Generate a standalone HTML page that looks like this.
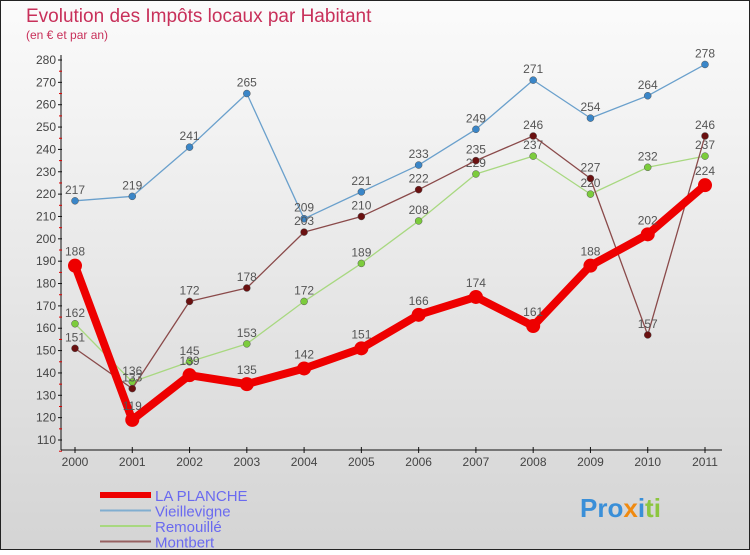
<!DOCTYPE html>
<html><head><meta charset="utf-8"><style>
body{margin:0}
#c{width:750px;height:550px;position:relative;font-family:"Liberation Sans",sans-serif}
</style></head><body>
<div id="c">
<svg id="s" width="750" height="550" xmlns="http://www.w3.org/2000/svg">
<defs><linearGradient id="bg" x1="0" y1="0" x2="0" y2="1"><stop offset="0" stop-color="#fbfbfb"/><stop offset="1" stop-color="#d4d4d4"/></linearGradient></defs>
<rect x="0.5" y="0.5" width="749" height="549" fill="url(#bg)" stroke="#222"/>
<text x="26" y="22" font-size="19" fill="#c8305a">Evolution des Impôts locaux par Habitant</text>
<text x="26" y="39" font-size="12" fill="#c8305a">(en € et par an)</text>
<g id="axes"></g><g id="series"></g><g id="legend"></g>
<text x="580" y="517" font-size="26" font-weight="bold" fill="#3a8fd8">Pro<tspan fill="#f08a10">x</tspan><tspan fill="#3a8fd8">i</tspan><tspan fill="#8cc63f">ti</tspan></text>
</svg></div>
<script>
const years=[2000,2001,2002,2003,2004,2005,2006,2007,2008,2009,2010,2011];
const yTicks=[110,120,130,140,150,160,170,180,190,200,210,220,230,240,250,260,270,280];
const laPlanche=[188,119,139,135,142,151,166,174,161,188,202,224];
const vieillevigne=[217,219,241,265,209,221,233,249,271,254,264,278];
const remouille=[162,136,145,153,172,189,208,229,237,220,232,237];
const montbert=[151,133,172,178,203,210,222,235,246,227,157,246];
const NS="http://www.w3.org/2000/svg";
function xS(i){return 75+i*(705-75)/(years.length-1);}
function yS(v){return 440-(v-110)*(380/170);}
function mk(p,t,a){const e=document.createElementNS(NS,t);for(const k in a)e.setAttribute(k,a[k]);p.appendChild(e);return e;}
const ax=document.getElementById('axes');
let l=mk(ax,'line',{x1:61,y1:55,x2:61,y2:450,stroke:'#111'});


l=mk(ax,'line',{x1:61,y1:450,x2:722,y2:450,stroke:'#111'});


yTicks.forEach(v=>{const y=yS(v);
mk(ax,'line',{x1:58,y1:y,x2:62,y2:y,stroke:'#111'});
mk(ax,'line',{x1:59,y1:y+11.2,x2:62,y2:y+11.2,stroke:'#d00'});
const t=mk(ax,'text',{x:56,y:y+4,'text-anchor':'end','font-size':12,fill:'#444'});t.textContent=v;

});
years.forEach((yr,i)=>{const x=xS(i);
mk(ax,'line',{x1:x,y1:447,x2:x,y2:453,stroke:'#111'});
const t=mk(ax,'text',{x:x,y:466,'text-anchor':'middle','font-size':12,fill:'#444'});t.textContent=yr;

});
const sg=document.getElementById('series');
const defs=[
{d:vieillevigne,c:'#6aa0cc',dot:'#3a86c8',w:1.3,r:3.5,n:'vieillevigne'},
{d:remouille,c:'#a8d880',dot:'#7ccc3c',w:1.3,r:3.5,n:'remouille'},
{d:montbert,c:'#8a4a4a',dot:'#6a1010',w:1.3,r:3.5,n:'montbert'},
{d:laPlanche,c:'#ee0000',dot:'#ee0000',w:8,r:7,n:'la-planche'}];
defs.forEach(s=>{const g=mk(sg,'g',{});


const p=mk(g,'polyline',{points:s.d.map((v,i)=>xS(i)+','+yS(v)).join(' '),fill:'none',stroke:s.c,'stroke-width':s.w,'stroke-linejoin':'round'});


s.d.forEach((v,i)=>{const c=mk(g,'circle',{cx:xS(i),cy:yS(v),r:s.r,fill:s.dot,stroke:s.w>2?'none':'#555','stroke-width':0.5});


const t=mk(g,'text',{x:xS(i),y:yS(v)-(s.w>2?10:7),'text-anchor':'middle','font-size':12,fill:'#555'});t.textContent=v;

});});
const lg=document.getElementById('legend');
const items=[['LA PLANCHE','#ee0000',6],['Vieillevigne','#80aed0',2],['Remouillé','#a8d880',2],['Montbert','#966060',2]];
items.forEach((it,i)=>{const y=495+i*15.5;
const g=mk(lg,'g',{});


mk(g,'line',{x1:100,y1:y,x2:151,y2:y,stroke:it[1],'stroke-width':it[2]});
const t=mk(g,'text',{x:155,y:y+6,'font-size':15,fill:'#6a6af0'});t.textContent=it[0];});
</script></body></html>
